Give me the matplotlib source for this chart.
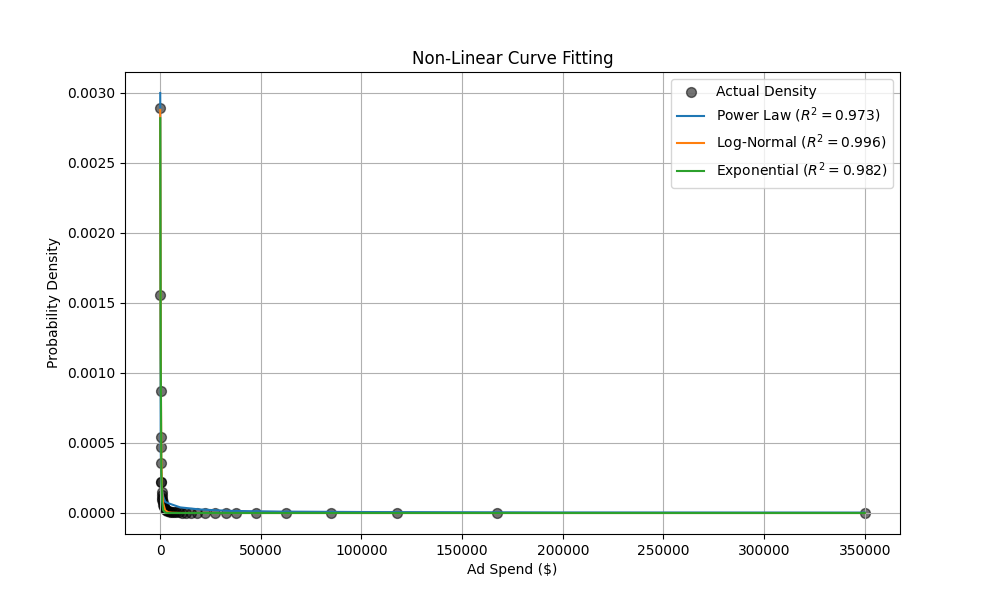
import numpy as np
import matplotlib.pyplot as plt

# histogram bin centres (ad spend) and their density
spend = [60, 120, 200, 300, 380, 450, 550, 650, 750, 850, 1000, 1150, 1300,
         1500, 1700, 2000, 2300, 2700, 3100, 3600, 4200, 5000, 6000, 7000,
         8000, 9500, 11000, 13000, 15500, 18500, 22500, 27500, 32500, 37500,
         47500, 62500, 85000, 117500, 167500, 350000]
density = [0.00289, 0.00156, 0.00087, 0.00054, 0.00047, 0.00036, 0.00022,
           0.00022, 0.00015, 0.00013, 0.00011, 0.00009, 0.00008, 0.00006,
           0.00005, 0.00004, 0.00003, 0.000025, 0.00002, 0.000015, 0.000012,
           0.00001, 0.000008, 0.000006, 0.000005, 0.000004, 0.000003,
           0.0000025, 0.000002, 0.0000015, 0.0000012, 0.000001, 0.0000008,
           0.0000006, 0.0000005, 0.0000003, 0.0000002, 0.0000001,
           0.00000005, 0.00000002]

# fitted curves
curve_x = [50, 300, 600, 1000, 1500, 2500, 4000, 6000, 10000, 20000, 35000,
           60000, 100000, 200000, 350000]
power_y = [0.0030, 0.00045, 0.00024, 0.00016, 0.00012, 0.00008, 0.00007,
           0.00006, 0.00004, 0.000025, 0.000015, 0.00001, 0.000007,
           0.000004, 0.000003]
lognorm_y = [0.00288, 0.0012, 0.0004, 0.00015, 0.00007, 0.00002, 0.000005,
             0.000002, 0.0000005, 0.0000001, 0.0, 0.0, 0.0, 0.0, 0.0]
expo_y = [0.00282, 0.0011, 0.0003, 0.00008, 0.00002, 0.000002, 0.0, 0.0,
          0.0, 0.0, 0.0, 0.0, 0.0, 0.0, 0.0]

r2 = {"Power Law": 0.973, "Log-Normal": 0.996, "Exponential": 0.982}

fig, ax = plt.subplots(figsize=(10, 6))
ax.scatter(spend, density, color="black", alpha=0.55, s=50, label="Actual Density")
ax.plot(curve_x, power_y, label="Power Law ($R^2 = %.3f$)" % r2["Power Law"])
ax.plot(curve_x, lognorm_y, label="Log-Normal ($R^2 = %.3f$)" % r2["Log-Normal"])
ax.plot(curve_x, expo_y, label="Exponential ($R^2 = %.3f$)" % r2["Exponential"])

ax.set_title("Non-Linear Curve Fitting")
ax.set_xlabel("Ad Spend ($)")
ax.set_ylabel("Probability Density")
ax.legend(loc="upper right")
ax.grid(True)

plt.savefig("out.png", dpi=100)
